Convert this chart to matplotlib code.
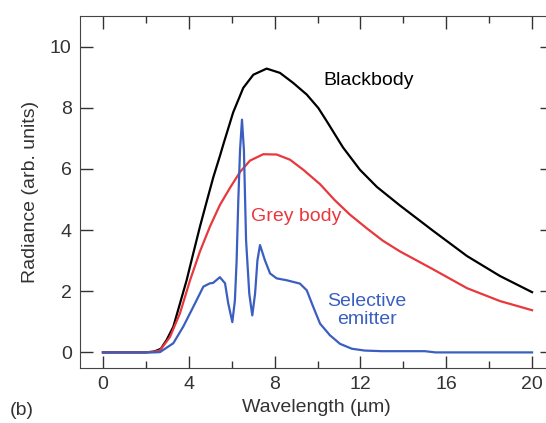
import numpy as np
import matplotlib
matplotlib.use("Agg")
from matplotlib import pyplot as plt
from matplotlib.ticker import MultipleLocator

plt.rcParams['font.family'] = ['Liberation Sans', 'DejaVu Sans']

# blackbody curve
bb_x = [0, 1, 2, 2.4, 2.7, 2.97, 3.28, 3.59, 3.9, 4.21, 4.52, 4.83, 5.14, 5.45, 5.61,
        6.07, 6.54, 7.01, 7.63, 8.25, 8.87, 9.5, 10.04, 10.44, 11.19, 11.98, 12.77,
        13.85, 15.38, 16.97, 18.5, 20.0]
bb_y = [0, 0, 0, 0.03, 0.12, 0.41, 0.84, 1.6, 2.36, 3.24, 4.11, 4.92, 5.72, 6.42, 6.8,
        7.85, 8.65, 9.08, 9.28, 9.14, 8.81, 8.43, 7.99, 7.55, 6.7, 5.97, 5.41,
        4.8, 3.98, 3.15, 2.5, 1.97]

# grey body
gb_x = [0, 1, 2, 2.4, 2.66, 3.12, 3.59, 4.06, 4.52, 4.99, 5.45, 5.92, 6.39, 6.85, 7.47,
        8.1, 8.72, 9.34, 10.12, 10.8, 11.52, 12.31, 13.05, 13.85, 15.38, 16.97, 18.5, 20.0]
gb_y = [0, 0, 0, 0.02, 0.07, 0.5, 1.28, 2.36, 3.3, 4.12, 4.82, 5.38, 5.9, 6.27, 6.48,
        6.47, 6.3, 5.97, 5.5, 4.98, 4.5, 4.05, 3.65, 3.3, 2.72, 2.1, 1.68, 1.38]

# selective emitter
se_x = [0, 1, 2, 2.4, 2.66, 3.28, 3.74, 4.21, 4.68, 4.99, 5.13, 5.45, 5.69, 5.84, 6.03,
        6.15, 6.23, 6.31, 6.39, 6.48, 6.57, 6.67, 6.82, 6.96, 7.09, 7.2, 7.32, 7.55,
        7.79, 8.1, 8.56, 9.18, 9.5, 9.8, 10.12, 10.58, 11.05, 11.6, 12.2, 13.0, 15.0,
        15.5, 18.0, 20.0]
se_y = [0, 0, 0, 0, 0.01, 0.3, 0.84, 1.49, 2.15, 2.26, 2.27, 2.46, 2.26, 1.6, 0.99,
        1.7, 3.0, 5.0, 6.62, 7.61, 6.62, 3.67, 1.92, 1.21, 1.92, 3.01, 3.51, 3.01,
        2.58, 2.42, 2.36, 2.25, 2.03, 1.49, 0.94, 0.56, 0.28, 0.12, 0.06, 0.04, 0.04,
        0.0, 0.0, 0.0]

x_ticks = [0, 4, 8, 12, 16, 20]
y_ticks = [0, 2, 4, 6, 8, 10]

red = '#e8383d'
blue = '#3a5fc0'
txt = '#333333'

fig = plt.figure(figsize=(5.46, 4.23), dpi=100)
ax = fig.add_axes([80 / 546, 55 / 423, 472 / 546, 352 / 423])

ax.plot(bb_x, bb_y, color='black', lw=1.6, solid_joinstyle='round')
ax.plot(gb_x, gb_y, color=red, lw=1.6, solid_joinstyle='round')
ax.plot(se_x, se_y, color=blue, lw=1.6, solid_joinstyle='round')

ax.set_xlim(-1.07, 20.93)
ax.set_ylim(-0.51, 11.0)
ax.set_xticks(x_ticks)
ax.set_yticks(y_ticks)
ax.xaxis.set_minor_locator(MultipleLocator(2))
ax.tick_params(which='both', direction='in', top=True, right=True,
               labelsize=14, colors=txt, width=1)
ax.tick_params(which='major', length=9, pad=6)
ax.tick_params(which='minor', length=5)
for s in ax.spines.values():
    s.set_color('#444444')

ax.set_xlabel('Wavelength (µm)', fontsize=14, color=txt, labelpad=4)
ax.set_ylabel('Radiance (arb. units)', fontsize=14, color=txt, labelpad=8)

ax.text(12.4, 8.9, 'Blackbody', fontsize=14, color='black', ha='center', va='center')
ax.text(9.0, 4.43, 'Grey body', fontsize=14, color=red, ha='center', va='center')
ax.text(12.3, 1.38, 'Selective\nemitter', fontsize=14, color=blue, ha='center',
        va='center', linespacing=1.1)

fig.text(10 / 546, 1 - 410 / 423, '(b)', fontsize=14, color=txt, va='center')

fig.savefig('out.png', dpi=100)
